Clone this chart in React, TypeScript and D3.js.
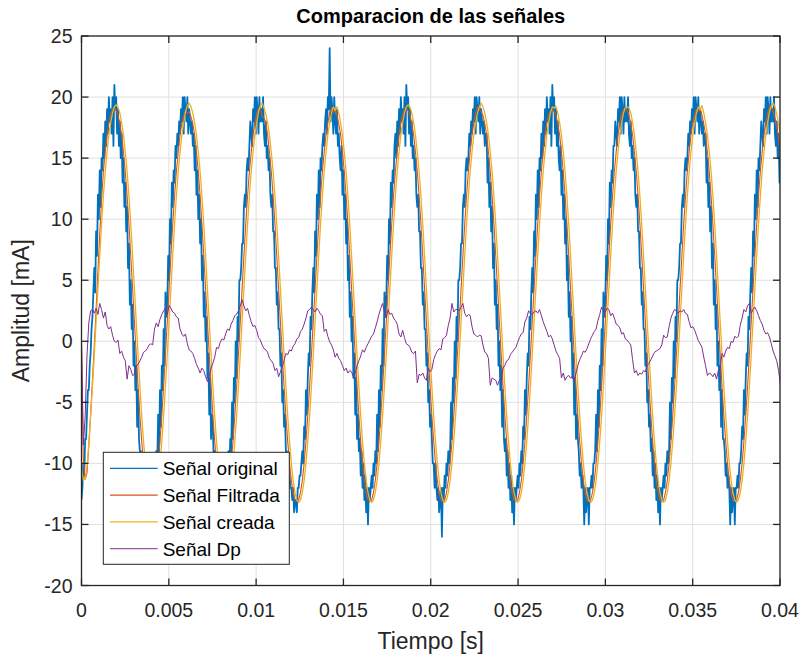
import React from 'react';
import * as d3 from 'd3';

// sampling interval of the processed signals (s)
const SAMPLE_STEP = 0.0001045;
// sampling interval of the raw recorded signal (s)
const ORIGINAL_SAMPLE_STEP = 0.00005225;

const X_TICKS = [0, 0.005, 0.01, 0.015, 0.02, 0.025, 0.03, 0.035, 0.04];
const X_TICK_LABELS = ['0', '0.005', '0.01', '0.015', '0.02', '0.025', '0.03', '0.035', '0.04'];
const Y_TICKS = [-20, -15, -10, -5, 0, 5, 10, 15, 20, 25];

const SERIES_NAMES = ['Señal original', 'Señal Filtrada', 'Señal creada', 'Señal Dp'];
const SERIES_COLORS = ['#0072BD', '#D95319', '#EDB120', '#7E2F8E'];

// Señal original (quantized, noisy raw signal)
const senalOriginal = [
  -13, -12, -10, -11, -8, -8, -6, -4, -4, -2, -1, 1, 2, 4,
  6, 4, 9, 7, 12, 10, 14, 11, 15, 14,
  17, 15, 18, 16, 19, 17, 20, 18, 19, 17, 20, 16, 21, 19, 20, 17, 19, 16, 18, 15,
  17, 13, 15, 11, 13, 9, 11, 6, 8, 3, 5, 1, 3, -2, 0, -4, -2, -7, -4, -8,
  -9, -9, -10, -11, -11, -12, -12, -13, -12, -14, -13, -13, -14, -12, -12, -11, -11, -10, -9, -10,
  -6, -9, -4, -7, -2, -4, 1, -2, 4, 2,
  3, 7, 5, 10, 8, 13, 11, 14, 13, 16,
  15, 17, 16, 18, 17, 19, 18, 20, 17, 20, 19, 18, 20, 17, 19, 18, 17, 18, 16, 17,
  14, 16, 12, 14, 10, 12, 8, 10, 5, 7, 2, 4, 0, 2, -3, -1, -6, -3, -8, -6,
  -7, -10, -9, -11, -10, -12, -11, -13, -12, -14, -12, -14, -13, -11, -13, -10, -12, -9, -11, -8,
  -9, -5, -8, -3, -5, 0, -3, 2, 0, 5,
  5, 6, 8, 8, 11, 12, 11, 14, 15, 14,
  16, 18, 17, 16, 19, 18, 20, 17, 20, 19, 17, 20, 18, 19, 18, 20, 17, 16, 18, 15,
  16, 14, 15, 12, 11, 12, 9, 9, 6, 6, 3, 4, 1, 1, -2, -1, -5, -4, -7, -6,
  -9, -9, -10, -11, -11, -12, -12, -13, -12, -14, -13, -13, -14, -12, -12, -11, -11, -10, -9, -10,
  -7, -8, -4, -6, -3, -1, -2, 2, 1, 4,
  6, 4, 9, 7, 12, 10, 14, 11, 15, 14,
  16, 17, 16, 18, 19, 17, 20, 19, 24, 18, 20, 19, 17, 20, 18, 17, 19, 16, 17, 15,
  14, 16, 12, 14, 10, 12, 8, 10, 5, 7, 2, 4, 0, 2, -3, -1, -6, -3, -8, -6,
  -9, -8, -11, -9, -12, -10, -13, -11, -14, -12, -15, -12, -13, -12, -11, -12, -10, -11, -9, -10,
  -6, -9, -4, -7, -2, -4, 1, -2, 4, 2,
  3, 7, 5, 10, 8, 13, 11, 14, 13, 16,
  17, 15, 18, 16, 19, 17, 20, 18, 19, 17, 20, 16, 21, 19, 20, 17, 19, 16, 18, 15,
  16, 14, 15, 12, 11, 12, 9, 9, 6, 6, 3, 4, 1, 1, -2, -1, -5, -4, -7, -6,
  -8, -10, -10, -12, -10, -12, -13, -12, -14, -13, -12, -16, -12, -13, -11, -12, -10, -11, -9, -10,
  -9, -5, -8, -3, -5, 0, -3, 2, 0, 5,
  5, 6, 8, 8, 11, 12, 11, 14, 15, 14,
  15, 17, 16, 18, 17, 19, 18, 20, 17, 20, 19, 18, 20, 17, 19, 18, 17, 18, 16, 17,
  17, 13, 15, 11, 13, 9, 11, 6, 8, 3, 5, 1, 3, -2, 0, -4, -2, -7, -4, -8,
  -9, -8, -11, -9, -12, -10, -13, -11, -14, -12, -15, -12, -13, -12, -11, -12, -10, -11, -9, -10,
  -7, -8, -4, -6, -3, -1, -2, 2, 1, 4,
  6, 4, 9, 7, 12, 10, 14, 11, 15, 14,
  17, 15, 18, 16, 19, 17, 20, 18, 19, 17, 20, 16, 21, 19, 20, 17, 19, 16, 18, 15,
  14, 16, 12, 14, 10, 12, 8, 10, 5, 7, 2, 4, 0, 2, -3, -1, -6, -3, -8, -6,
  -8, -9, -11, -10, -12, -11, -12, -15, -12, -14, -13, -12, -15, -12, -12, -11, -12, -10, -10, -9,
  -6, -9, -4, -7, -2, -4, 1, -2, 4, 2,
  3, 7, 5, 10, 8, 13, 11, 14, 13, 16,
  16, 18, 17, 16, 19, 18, 20, 17, 20, 19, 17, 20, 18, 19, 18, 20, 17, 16, 18, 15,
  16, 14, 15, 12, 11, 12, 9, 9, 6, 6, 3, 4, 1, 1, -2, -1, -5, -4, -7, -6,
  -9, -8, -11, -9, -12, -10, -13, -11, -14, -12, -15, -12, -13, -12, -11, -12, -10, -11, -9, -10,
  -9, -5, -8, -3, -5, 0, -3, 2, 0, 5,
  5, 6, 8, 8, 11, 12, 11, 14, 15, 14,
  15, 17, 16, 18, 17, 19, 18, 20, 17, 20, 19, 18, 20, 17, 19, 18, 17, 18, 16, 17,
  17, 13, 15, 11, 13, 9, 11, 6, 8, 3, 5, 1, 3, -2, 0, -4, -2, -7, -4, -8,
  -8, -9, -11, -10, -12, -11, -12, -15, -12, -14, -13, -12, -15, -12, -12, -11, -12, -10, -10, -9,
  -7, -8, -4, -6, -3, -1, -2, 2, 1, 4,
  6, 4, 9, 7, 12, 10, 14, 11, 15, 14,
  16, 18, 17, 16, 19, 18, 20, 17, 20, 19, 17, 20, 18, 19, 18, 20, 17, 16, 18, 15,
  17, 13, 14, 11,
];

// Señal Filtrada
const senalFiltrada = [
  0, -9.6, -11.3, -10.8, -8.6, -6.0, -3.2, -0.4, 2.6, 5.8, 8.8, 11.6,
  13.9, 15.5, 16.9, 17.9, 18.6, 19.0, 19.1, 18.9, 18.5, 17.8, 16.9, 15.5, 13.9, 11.9, 9.6, 7.0, 4.3, 1.6, -1.1, -3.7, -6.1, -8.2, -10.0, -11.4, -12.4, -13.0, -13.1, -13.0, -12.4, -11.4, -10.0, -8.2, -6.1, -3.7, -1.1, 1.6,
  4.3, 7.0, 9.6, 11.9, 13.9, 15.5, 16.9, 17.9, 18.5, 18.9, 18.7, 18.8, 18.4, 17.8, 16.9, 15.5, 13.9, 11.9, 9.6, 7.0, 4.3, 1.6, -1.1, -3.7, -6.1, -8.2, -10.0, -11.4, -12.4, -13.0, -13.1, -13.0, -12.4, -11.4, -10.0, -8.2, -6.1, -3.7, -1.1, 1.6,
  4.3, 7.0, 9.6, 11.9, 13.9, 15.5, 16.9, 17.9, 18.6, 19.1, 19.0, 18.4, 18.3, 17.9, 16.9, 15.5, 13.9, 11.9, 9.6, 7.0, 4.3, 1.6, -1.1, -3.7, -6.1, -8.2, -10.0, -11.4, -12.4, -13.0, -13.1, -13.0, -12.4, -11.4, -10.0, -8.2, -6.1, -3.7, -1.1, 1.6,
  4.3, 7.0, 9.6, 11.9, 13.9, 15.5, 16.9, 17.9, 18.7, 19.1, 18.7, 19.0, 18.5, 17.8, 16.9, 15.5, 13.9, 11.9, 9.6, 7.0, 4.3, 1.6, -1.1, -3.7, -6.1, -8.2, -10.0, -11.4, -12.4, -13.0, -13.1, -13.0, -12.4, -11.4, -10.0, -8.2, -6.1, -3.7, -1.1, 1.6,
  4.3, 7.0, 9.6, 11.9, 13.9, 15.5, 16.9, 17.9, 18.6, 19.0, 19.1, 18.9, 18.5, 17.8, 16.9, 15.5, 13.9, 11.9, 9.6, 7.0, 4.3, 1.6, -1.1, -3.7, -6.1, -8.2, -10.0, -11.4, -12.4, -13.0, -13.1, -13.0, -12.4, -11.4, -10.0, -8.2, -6.1, -3.7, -1.1, 1.6,
  4.3, 7.0, 9.6, 11.9, 13.9, 15.5, 16.9, 17.9, 18.7, 19.2, 19.0, 18.8, 18.5, 17.8, 16.9, 15.5, 13.9, 11.9, 9.6, 7.0, 4.3, 1.6, -1.1, -3.7, -6.1, -8.2, -10.0, -11.4, -12.4, -13.0, -13.1, -13.0, -12.4, -11.4, -10.0, -8.2, -6.1, -3.7, -1.1, 1.6,
  4.3, 7.0, 9.6, 11.9, 13.9, 15.5, 16.9, 17.9, 18.6, 18.9, 19.0, 18.8, 18.5, 17.8, 16.9, 15.5, 13.9, 11.9, 9.6, 7.0, 4.3, 1.6, -1.1, -3.7, -6.1, -8.2, -10.0, -11.4, -12.4, -13.0, -13.1, -13.0, -12.4, -11.4, -10.0, -8.2, -6.1, -3.7, -1.1, 1.6,
  4.3, 7.0, 9.6, 11.9, 13.9, 15.5, 16.9, 17.9, 18.6, 19.0, 19.1, 18.9, 18.5, 17.8, 16.9, 15.5, 13.9, 11.9, 9.6, 7.0, 4.3, 1.6, -1.1, -3.7, -6.1, -8.2, -10.0, -11.4, -12.4, -13.0, -13.1, -13.0, -12.4, -11.4, -10.0, -8.2, -6.1, -3.7, -1.1, 1.6,
  4.3, 7.0, 9.6, 11.9, 13.9, 15.5, 16.9, 17.9, 18.6, 19.0, 18.8, 19.1, 18.5, 17.8, 16.9, 15.5, 13.9, 11.9, 9.6, 7.0, 4.3, 1.6, -1.1, -3.7, -6.1, -8.2, -10.0, -11.4, -12.4, -13.0, -13.1, -13.0, -12.4, -11.4, -10.0, -8.2, -6.1, -3.7, -1.1, 1.6,
  4.3, 7.0, 9.6, 11.9, 13.9, 15.5, 16.9, 17.9, 18.7, 19.2, 19.1, 18.8, 18.3, 17.6, 16.6, 15.2,
];

// Señal creada
const senalCreada = [
  -10.4, -11.4, -11.2, -10.3, -8.4, -6.1, -3.7, -1.1, 1.6,
  4.3, 7.0, 9.6, 11.9, 13.9, 15.5, 16.9, 17.9, 18.7, 19.2, 19.35, 19.2, 18.7, 17.9, 16.9, 15.5, 13.9, 11.9, 9.6, 7.0, 4.3, 1.6, -1.1, -3.7, -6.1, -8.2, -10.0, -11.4, -12.4, -13.0, -13.2, -13.0, -12.4, -11.4, -10.0, -8.2, -6.1, -3.7, -1.1, 1.6,
  4.3, 7.0, 9.6, 11.9, 13.9, 15.5, 16.9, 17.9, 18.8, 19.3, 19.5, 19.2, 18.7, 17.9, 16.9, 15.5, 13.9, 11.9, 9.6, 7.0, 4.3, 1.6, -1.1, -3.7, -6.1, -8.2, -10.0, -11.4, -12.4, -13.0, -13.2, -13.0, -12.4, -11.4, -10.0, -8.2, -6.1, -3.7, -1.1, 1.6,
  4.3, 7.0, 9.6, 11.9, 13.9, 15.5, 16.9, 17.9, 18.8, 19.3, 19.5, 19.1, 18.6, 17.9, 16.9, 15.5, 13.9, 11.9, 9.6, 7.0, 4.3, 1.6, -1.1, -3.7, -6.1, -8.2, -10.0, -11.4, -12.4, -13.0, -13.2, -13.0, -12.4, -11.4, -10.0, -8.2, -6.1, -3.7, -1.1, 1.6,
  4.3, 7.0, 9.6, 11.9, 13.9, 15.5, 16.9, 17.9, 18.7, 19.2, 18.9, 19.2, 18.7, 17.9, 16.9, 15.5, 13.9, 11.9, 9.6, 7.0, 4.3, 1.6, -1.1, -3.7, -6.1, -8.2, -10.0, -11.4, -12.4, -13.0, -13.2, -13.0, -12.4, -11.4, -10.0, -8.2, -6.1, -3.7, -1.1, 1.6,
  4.3, 7.0, 9.6, 11.9, 13.9, 15.5, 16.9, 17.9, 18.7, 19.2, 19.35, 19.2, 18.7, 17.9, 16.9, 15.5, 13.9, 11.9, 9.6, 7.0, 4.3, 1.6, -1.1, -3.7, -6.1, -8.2, -10.0, -11.4, -12.4, -13.0, -13.2, -13.0, -12.4, -11.4, -10.0, -8.2, -6.1, -3.7, -1.1, 1.6,
  4.3, 7.0, 9.6, 11.9, 13.9, 15.5, 16.9, 17.9, 18.7, 19.2, 19.5, 19.2, 18.7, 17.9, 16.9, 15.5, 13.9, 11.9, 9.6, 7.0, 4.3, 1.6, -1.1, -3.7, -6.1, -8.2, -10.0, -11.4, -12.4, -13.0, -13.2, -13.0, -12.4, -11.4, -10.0, -8.2, -6.1, -3.7, -1.1, 1.6,
  4.3, 7.0, 9.6, 11.9, 13.9, 15.5, 16.9, 17.9, 18.7, 19.2, 19.1, 19.25, 18.7, 17.9, 16.9, 15.5, 13.9, 11.9, 9.6, 7.0, 4.3, 1.6, -1.1, -3.7, -6.1, -8.2, -10.0, -11.4, -12.4, -13.0, -13.2, -13.0, -12.4, -11.4, -10.0, -8.2, -6.1, -3.7, -1.1, 1.6,
  4.3, 7.0, 9.6, 11.9, 13.9, 15.5, 16.9, 17.9, 18.7, 19.1, 19.2, 19.1, 18.7, 17.9, 16.9, 15.5, 13.9, 11.9, 9.6, 7.0, 4.3, 1.6, -1.1, -3.7, -6.1, -8.2, -10.0, -11.4, -12.4, -13.0, -13.2, -13.0, -12.4, -11.4, -10.0, -8.2, -6.1, -3.7, -1.1, 1.6,
  4.3, 7.0, 9.6, 11.9, 13.9, 15.5, 16.9, 17.9, 18.7, 19.2, 18.95, 19.3, 18.7, 17.9, 16.9, 15.5, 13.9, 11.9, 9.6, 7.0, 4.3, 1.6, -1.1, -3.7, -6.1, -8.2, -10.0, -11.4, -12.4, -13.0, -13.2, -13.0, -12.4, -11.4, -10.0, -8.2, -6.1, -3.7, -1.1, 1.6,
  4.3, 7.0, 9.6, 11.9, 13.9, 15.5, 16.9, 17.9, 18.8, 19.3, 19.5, 19.2, 18.6, 17.8, 16.8,
];

// Señal Dp
const senalDp = [
  0, -8.5, -6.2, -1.2, 1.5, 2.5, 2.6, 2.3, 2.7, 2.2,
  3.1, 2.6, 1.9, 2.4, 1.3, 1.0, 1.2, 0.5, 0.0, -0.1,
  0.1, -1.0, -0.8, -1.3, -1.6, -3.1, -2.0, -2.3, -2.8, -2.7,
  -2.0, -1.9, -1.6, -1.3, -0.9, -0.8, -0.6, -0.3, -0.2, -0.3,
  1.0, 1.5, 1.2, 1.8, 2.2, 2.5, 2.7, 2.2, 2.95, 2.7,
  2.4, 2.3, 2.0, 1.9, 1.0, 0.6, 0.4, 0.6, -0.2, -0.7,
  -0.8, -1.0, -1.4, -1.9, -2.2, -2.6, -2.2, -2.4, -2.9, -3.3,
  -2.8, -2.2, -1.8, -1.3, -0.5, -0.6, -0.1, 0.2, 0.1, 0.6,
  1.0, 0.9, 1.4, 1.7, 2.1, 2.2, 2.5, 2.9, 3.4, 2.9,
  2.5, 2.7, 2.1, 1.6, 1.2, 1.3, 0.9, 0.3, 0.1, -0.3,
  -0.6, -0.7, -0.9, -1.4, -1.6, -1.8, -2.4, -2.2, -2.9, -2.5,
  -2.1, -1.6, -1.0, -1.1, -0.7, -0.8, -0.4, -0.2, 0.2, 0.3,
  0.8, 1.0, 1.4, 1.9, 2.5, 2.6, 2.8, 2.6, 2.4, 2.7,
  2.5, 2.2, 2.1, 0.8, 1.0, 0.4, -0.05, -0.3, -0.7, -1.3,
  -1.0, -1.4, -1.6, -2.0, -2.4, -2.2, -2.6, -2.4, -2.5, -2.9,
  -2.6, -2.0, -1.6, -1.2, -0.7, -0.9, -0.5, -0.2, 0.1, 0.4,
  0.6, 1.1, 1.6, 2.2, 2.7, 3.1, 2.4, 1.9, 2.6, 2.2,
  2.3, 1.9, 1.7, 1.4, 0.6, 0.35, 0.9, 0.3, -0.2, -0.3,
  -0.5, -0.9, -1.0, -0.8, -3.4, -2.7, -2.8, -2.6, -3.0, -3.2,
  -2.2, -2.5, -2.3, -1.5, -1.1, -0.8, -0.6, -0.7, 0.2, 0.3,
  0.5, 1.3, 1.9, 3.1, 2.4, 2.6, 2.6, 2.5, 2.8, 3.1,
  2.3, 2.0, 2.2, 2.1, 1.2, 0.6, 0.5, 0.35, 0.5, 0.45,
  -0.3, -0.9, -1.0, -1.4, -3.6, -3.0, -3.1, -3.2, -3.6, -3.2,
  -3.0, -2.2, -2.0, -1.6, -1.5, -1.1, -0.9, -0.7, -0.5, -0.1,
  0.3, 0.6, 0.7, 1.6, 1.9, 2.5, 2.3, 2.2, 2.4, 2.5,
  2.3, 2.6, 2.1, 1.6, 1.2, 0.8, 0.35, 0.5, 0.2, -0.3,
  -0.8, -1.1, -1.4, -3.0, -2.6, -3.2, -2.9, -2.8, -3.0, -2.9,
  -3.2, -2.6, -2.0, -1.5, -1.2, -0.8, -0.9, -0.6, -0.2, 0.2,
  0.5, 0.8, 1.0, 1.7, 2.2, 2.8, 2.5, 2.4, 2.7, 2.6,
  2.1, 2.3, 1.9, 1.4, 1.3, 1.1, 0.6, 0.7, 0.2, 0.1,
  -0.1, -0.3, -1.5, -2.6, -2.4, -2.8, -2.6, -2.7, -2.4, -2.5,
  -2.0, -1.8, -1.5, -1.2, -0.9, -0.8, -0.7, -0.6, -0.3, 0.5,
  0.3, 0.35, 1.2, 1.9, 2.3, 2.6, 2.5, 2.3, 2.5, 2.4,
  2.6, 2.3, 2.2, 1.6, 1.1, 1.2, 0.9, 0.5, 0.05, -0.2,
  -0.5, -1.3, -2.0, -2.8, -2.6, -2.7, -2.9, -2.6, -3.1, -2.4,
  -2.2, -1.0, -1.3, -0.8, -0.5, -0.6, 0.0, -0.1, 0.4, 0.3,
  0.4, 1.3, 1.9, 2.6, 2.4, 2.9, 3.1, 2.3, 2.6, 2.8,
  2.5, 2.1, 1.7, 1.4, 0.9, 0.6, 0.7, 0.35, -0.2, -0.8,
  -1.2, -1.6, -2.4, -3.5,
];

const SERIES = [senalOriginal, senalFiltrada, senalCreada, senalDp];
const SERIES_STEPS = [ORIGINAL_SAMPLE_STEP, SAMPLE_STEP, SAMPLE_STEP, SAMPLE_STEP];
const SERIES_WIDTHS = [1.8, 1.1, 1.3, 1.0];

const FONT = '"Liberation Sans", Arial, Helvetica, sans-serif';
const AXIS_COLOR = '#262626';

export default function App() {
  const W = 801;
  const H = 659;
  const left = 81.5;
  const right = 780;
  const top = 36;
  const bottom = 585.5;

  const x = d3.scaleLinear().domain([0, 0.04]).range([left, right]);
  const y = d3.scaleLinear().domain([-20, 25]).range([bottom, top]);

  const makeLine = (step: number) =>
    d3
      .line<number>()
      .x((_, i) => x(i * step))
      .y((d) => y(d));

  const tickLen = 7;

  const legendX = 103.3;
  const legendY = 452.3;
  const legendW = 186;
  const legendH = 112;
  const legendRow = 26.8;
  const legendFirst = 468.3;

  return (
    <svg
      width={W}
      height={H}
      viewBox={`0 0 ${W} ${H}`}
      style={{ position: 'absolute', left: 0, top: 0, background: '#fff' }}
      fontFamily={FONT}
    >
      <rect x={0} y={0} width={W} height={H} fill="#fff" />
      <defs>
        <clipPath id="plotClip">
          <rect x={left} y={top} width={right - left} height={bottom - top} />
        </clipPath>
      </defs>
      {/* grid */}
      <g stroke="#e0e0e0" strokeWidth={1}>
        {X_TICKS.map((t, i) => (
          <line key={'gx' + i} x1={x(t)} x2={x(t)} y1={top} y2={bottom} />
        ))}
        {Y_TICKS.map((t, i) => (
          <line key={'gy' + i} x1={left} x2={right} y1={y(t)} y2={y(t)} />
        ))}
      </g>
      {/* series */}
      <g clipPath="url(#plotClip)" fill="none" strokeLinejoin="round">
        {SERIES.map((s, i) => (
          <path
            key={'s' + i}
            d={makeLine(SERIES_STEPS[i])(s) || ''}
            stroke={SERIES_COLORS[i]}
            strokeWidth={SERIES_WIDTHS[i]}
          />
        ))}
      </g>
      {/* box and ticks */}
      <g stroke={AXIS_COLOR} strokeWidth={1.3} fill="none">
        <rect x={left} y={top} width={right - left} height={bottom - top} />
        {X_TICKS.map((t, i) => (
          <g key={'tx' + i}>
            <line x1={x(t)} x2={x(t)} y1={bottom} y2={bottom - tickLen} />
            <line x1={x(t)} x2={x(t)} y1={top} y2={top + tickLen} />
          </g>
        ))}
        {Y_TICKS.map((t, i) => (
          <g key={'ty' + i}>
            <line x1={left} x2={left + tickLen} y1={y(t)} y2={y(t)} />
            <line x1={right} x2={right - tickLen} y1={y(t)} y2={y(t)} />
          </g>
        ))}
      </g>
      {/* tick labels */}
      <g fill={AXIS_COLOR} fontSize={19.5}>
        {X_TICKS.map((t, i) => (
          <text key={'lx' + i} x={x(t)} y={617} textAnchor="middle">
            {X_TICK_LABELS[i]}
          </text>
        ))}
        {Y_TICKS.map((t, i) => (
          <text key={'ly' + i} x={72.5} y={y(t) + 7} textAnchor="end">
            {t}
          </text>
        ))}
      </g>
      {/* axis labels and title */}
      <text x={(left + right) / 2} y={649} textAnchor="middle" fontSize={23} fill={AXIS_COLOR}>
        Tiempo [s]
      </text>
      <text
        transform={`translate(29, ${(top + bottom) / 2}) rotate(-90)`}
        textAnchor="middle"
        fontSize={23}
        fill={AXIS_COLOR}
      >
        Amplitud [mA]
      </text>
      <text x={(left + right) / 2} y={23} textAnchor="middle" fontSize={20} fontWeight="bold" fill="#000">
        Comparacion de las señales
      </text>
      {/* legend */}
      <g>
        <rect x={legendX} y={legendY} width={legendW} height={legendH} fill="#fff" stroke={AXIS_COLOR} strokeWidth={1} />
        {SERIES_NAMES.map((name, i) => {
          const ly = legendFirst + i * legendRow;
          return (
            <g key={'lg' + i}>
              <line x1={110} x2={157.7} y1={ly} y2={ly} stroke={SERIES_COLORS[i]} strokeWidth={Math.min(SERIES_WIDTHS[i], 1.3)} />
              <text x={162.7} y={ly + 7} fontSize={19} fill="#000">
                {name}
              </text>
            </g>
          );
        })}
      </g>
    </svg>
  );
}
